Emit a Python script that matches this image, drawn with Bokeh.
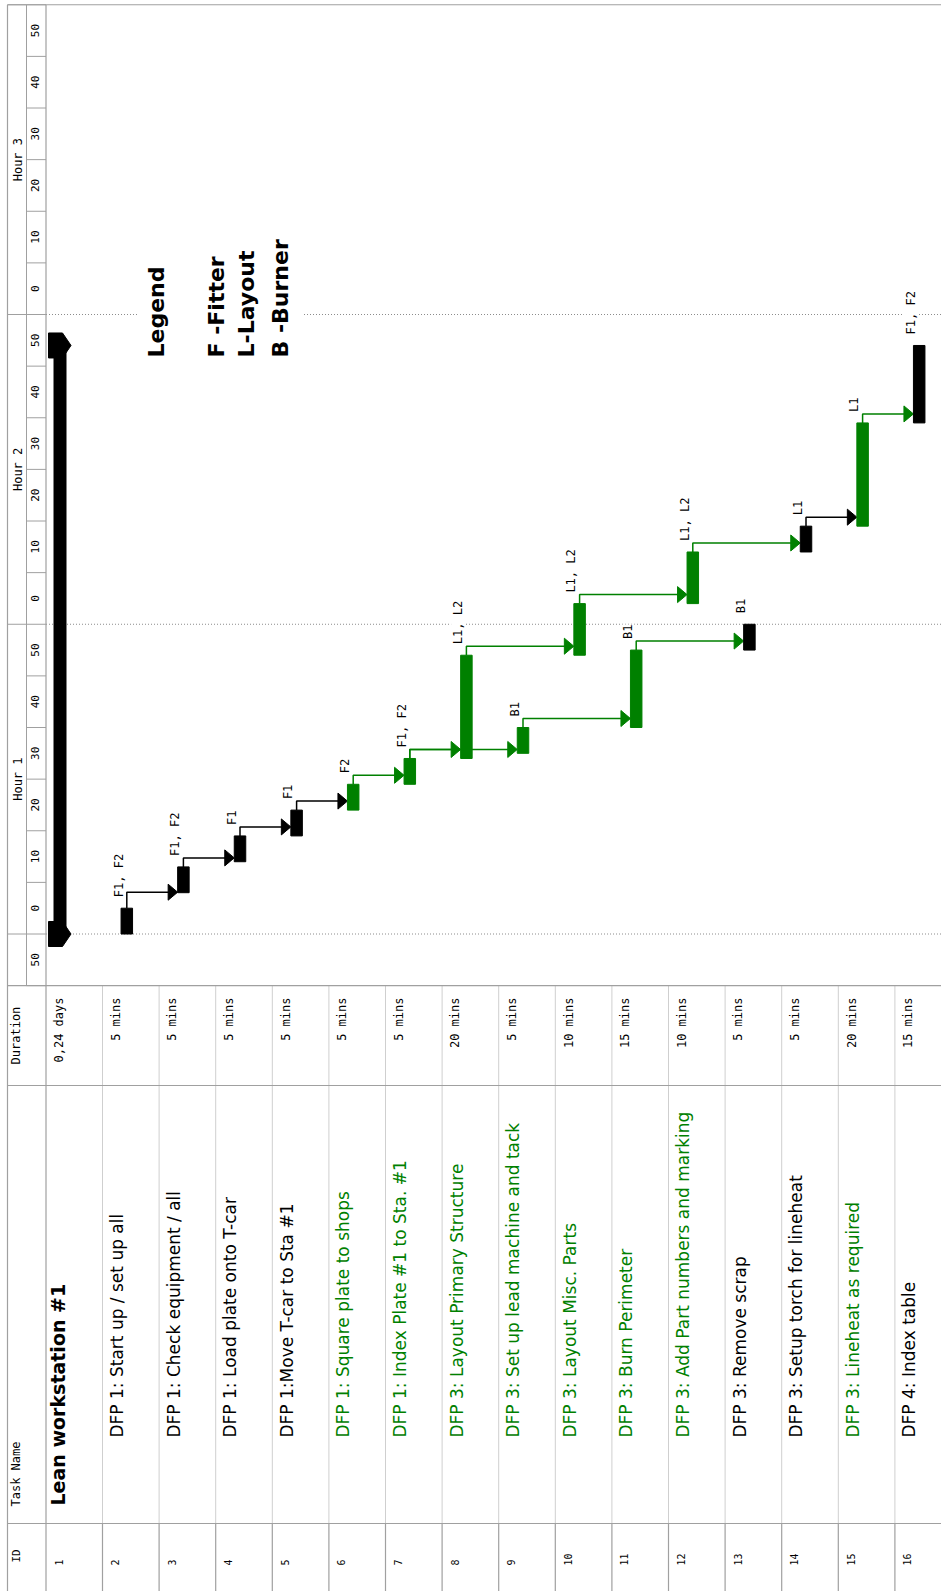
import math
from bokeh.plotting import figure
from bokeh.models import Range1d, ColumnDataSource
from bokeh.core.properties import value
from bokeh.embed import file_html
from bokeh.resources import INLINE

# ---------------- data ----------------
TASK_IDS = [1, 2, 3, 4, 5, 6, 7, 8, 9, 10, 11, 12, 13, 14, 15, 16]
TASK_NAMES = [
    "Lean workstation #1",
    "DFP 1: Start up / set up all",
    "DFP 1: Check equipment / all",
    "DFP 1: Load plate onto T-car",
    "DFP 1:Move T-car to Sta #1",
    "DFP 1: Square plate to shops",
    "DFP 1: Index Plate #1 to Sta. #1",
    "DFP 3: Layout Primary Structure",
    "DFP 3: Set up lead machine and tack",
    "DFP 3: Layout Misc. Parts",
    "DFP 3: Burn Perimeter",
    "DFP 3: Add Part numbers and marking",
    "DFP 3: Remove scrap",
    "DFP 3: Setup torch for lineheat",
    "DFP 3: Lineheat as required",
    "DFP 4: Index table",
]
DURATIONS = ["0,24 days", "5 mins", "5 mins", "5 mins", "5 mins", "5 mins", "5 mins",
             "20 mins", "5 mins", "10 mins", "15 mins", "10 mins", "5 mins", "5 mins",
             "20 mins", "15 mins"]
TASK_COLOR = ["#000000", "#000000", "#000000", "#000000", "#000000", "#008000", "#008000",
              "#008000", "#008000", "#008000", "#008000", "#008000", "#000000", "#000000",
              "#008000", "#000000"]
BAR_START = [0, 0, 8, 14, 19, 24, 29, 34, 35, 54, 40, 64, 55, 74, 79, 99]
BAR_END = [114, 5, 13, 19, 24, 29, 34, 54, 40, 64, 55, 74, 60, 79, 99, 114]
RESOURCES = ["", "F1, F2", "F1, F2", "F1", "F1", "F2", "F1, F2", "L1, L2", "B1",
             "L1, L2", "B1", "L1, L2", "B1", "L1", "L1", "F1, F2"]
LINK_FROM = [2, 3, 4, 5, 6, 7, 7, 8, 9, 10, 11, 12, 14, 15]
LINK_TO = [3, 4, 5, 6, 7, 8, 9, 10, 11, 12, 13, 14, 15, 16]
HOUR_LABELS = ["Hour 1", "Hour 2", "Hour 3"]
HOUR_START = [0, 60, 120]
MINUTE_START = [-10, 0, 10, 20, 30, 40, 50, 60, 70, 80, 90, 100, 110, 120, 130, 140, 150, 160, 170]
MINUTE_LABELS = ["50", "0", "10", "20", "30", "40", "50", "0", "10", "20", "30", "40", "50",
                 "0", "10", "20", "30", "40", "50"]
LEGEND_LINES = ["Legend", "F -Fitter", "L-Layout", "B -Burner"]

# ---------------- geometry / style ----------------
PX_ROW = 56.6      # pixels per row
PX_MIN = 5.1625    # pixels per minute
W, H = 941, 1591
ROW2 = 102.0       # page x of the left edge of row 2
ZERO_Y = 933.5     # page y of minute 0


def px_x(n):
    return n / PX_ROW


def px_t(n):
    return n / PX_MIN


def rx(px):
    return 2 + (px - ROW2) / PX_ROW


def ty(py):
    return (ZERO_Y - py) / PX_MIN


X0, X1 = rx(0), rx(W)
T1, T0 = ty(0), ty(H)

X_LEFT = rx(7)
X_TIER = rx(26)
X_HDR = rx(45.5)
T_TOP = 180
T_GANTT = -10
T_DUR = ty(1085)
T_TASK = ty(1523)

BAR_OFF = px_x(24.3)
BAR_HALF = px_x(5.75)
SUM_OFF = px_x(14)
SUM_HALF = px_x(6)

LEGEND_X = [rx(155.7), rx(215.7), rx(245.7), rx(279.7)]
LEGEND_T = ty(357)

FONT = "DejaVu Sans"
MONO = "DejaVu Sans Mono"
GRID = "#a0a0a0"
LIGHT = "#cfcfcf"


def row_left(i):
    return X_HDR if i == 1 else float(i)


p = figure(width=W, height=H, x_range=Range1d(X0, X1), y_range=Range1d(T0, T1),
           x_axis_location=None, y_axis_location=None, toolbar_location=None,
           output_backend="svg", min_border=0, outline_line_color=None,
           background_fill_color="white", border_fill_color="white")
p.grid.visible = False


def segs(xs, ys, color, width=1.0, dash="solid"):
    p.multi_line(xs=xs, ys=ys, line_color=color, line_width=width, line_dash=dash)


def vtext(xs, ys, texts, size, color="#000000", align="left", baseline="alphabetic",
          bold=False, bg=None, font=FONT):
    data = dict(x=xs, y=ys, text=texts)
    if isinstance(color, list):
        data["c"] = color
        col = "c"
    else:
        col = color
    src = ColumnDataSource(data)
    kw = {}
    if bg is not None:
        kw["background_fill_color"] = bg
    p.text("x", "y", text="text", source=src, angle=math.pi / 2,
           text_font=value(font), text_font_size=f"{size}px", text_color=col,
           text_align=align, text_baseline=baseline,
           text_font_style="bold" if bold else "normal", **kw)


# ---- hour dotted lines ----
segs([[X_HDR, X1] for h in HOUR_START], [[h, h] for h in HOUR_START], "#8c8c8c", 1, "1 2")

# ---- links ----
lxs, lys, lcol = [], [], []
axs, ays, acol = [], [], []
for a, b in zip(LINK_FROM, LINK_TO):
    ia, ib = a - 1, b - 1
    xa = row_left(a) + BAR_OFF
    xb = row_left(b) + BAR_OFF - BAR_HALF
    tt = max(BAR_END[ia] + px_t(9), BAR_START[ib] + px_t(0.5))
    lxs.append([xa, xa, xb - px_x(2)])
    lys.append([BAR_END[ia], tt, tt])
    lcol.append(TASK_COLOR[ia])
    axs.append([xb - px_x(9.5), xb, xb - px_x(9.5)])
    ays.append([tt + px_t(8), tt, tt - px_t(8)])
    acol.append(TASK_COLOR[ia])
p.multi_line(xs="xs", ys="ys", line_color="c", line_width=1.5,
             source=ColumnDataSource(dict(xs=lxs, ys=lys, c=lcol)))
p.patches(xs="xs", ys="ys", fill_color="c", line_color="c",
          source=ColumnDataSource(dict(xs=axs, ys=ays, c=acol)))

# ---- task bars ----
bl, br, bb, bt, bc = [], [], [], [], []
for i, s, e, c in zip(TASK_IDS, BAR_START, BAR_END, TASK_COLOR):
    if i == 1:
        continue
    xc = row_left(i) + BAR_OFF
    bl.append(xc - BAR_HALF)
    br.append(xc + BAR_HALF)
    bb.append(s)
    bt.append(e)
    bc.append(c)
p.quad(left="l", right="r", bottom="b", top="t", fill_color="c", line_color="c",
       source=ColumnDataSource(dict(l=bl, r=br, b=bb, t=bt, c=bc)))

# ---- summary bar ----
sx = row_left(1) + SUM_OFF
p.quad(left=[sx - SUM_HALF], right=[sx + SUM_HALF], bottom=[BAR_START[0]], top=[BAR_END[0]],
       fill_color="black", line_color="black")
cap_x = [sx + px_x(d) for d in (-11.5, 2.5, 11, 2.5, -11.5)]
cap_d = [px_t(d) for d in (12.5, 12.5, 0, -12.5, -12.5)]
p.patches(xs=[cap_x, cap_x], ys=[[BAR_START[0] + d for d in cap_d], [BAR_END[0] + d for d in cap_d]],
          fill_color="black", line_color="black")

# ---- resource labels ----
lab_x, lab_y, lab_t = [], [], []
for i, e, r in zip(TASK_IDS, BAR_END, RESOURCES):
    if not r:
        continue
    lab_x.append(row_left(i) + BAR_OFF - BAR_HALF - px_x(2.5))
    lab_y.append(e + px_t(11))
    lab_t.append(r)
vtext(lab_x, lab_y, lab_t, 12, bg="white", font=MONO)

# ---- legend text box ----
p.quad(left=[LEGEND_X[0] - px_x(18)], right=[LEGEND_X[-1] + px_x(22)],
       bottom=[LEGEND_T - px_t(2)], top=[LEGEND_T + px_t(130)], fill_color="white", line_color=None)
vtext(LEGEND_X, [LEGEND_T] * len(LEGEND_LINES), LEGEND_LINES, 22, bold=True)

# ---- time scale ----
ms_x, ms_y = [], []
for m in MINUTE_START + [MINUTE_START[-1] + 10]:
    ms_x.append([X_TIER, X_HDR])
    ms_y.append([m, m])
for h in HOUR_START + [HOUR_START[-1] + 60]:
    ms_x.append([X_LEFT, X_TIER])
    ms_y.append([h, h])
segs(ms_x, ms_y, GRID)
segs([[X_TIER, X_TIER]], [[T_GANTT, T_TOP]], GRID)
vtext([(X_TIER + X_HDR) / 2 - px_x(1)] * len(MINUTE_START), [m + 5 for m in MINUTE_START],
      MINUTE_LABELS, 11, align="center", baseline="middle", font=MONO)
vtext([(X_LEFT + X_TIER) / 2 + px_x(0.5)] * len(HOUR_START), [h + 30 for h in HOUR_START],
      HOUR_LABELS, 12, align="center", baseline="middle", font=MONO)

# ---- table grid ----
row_edges = TASK_IDS[1:]
segs([[x, x] for x in row_edges], [[T_GANTT, T_TASK] for x in row_edges], LIGHT)
segs([[x, x] for x in row_edges], [[T_TASK, T0] for x in row_edges], GRID, 1.2)
segs([[X_LEFT, X_LEFT], [X_HDR, X_HDR]], [[T0, T_TOP], [T0, T_TOP]], GRID, 1.2)
segs([[X_LEFT, X1]] * 4, [[T_TOP, T_TOP], [T_GANTT, T_GANTT], [T_DUR, T_DUR], [T_TASK, T_TASK]],
     GRID, 1.2)

# ---- header texts ----
HDR_X = X_LEFT + px_x(8.7)
vtext([HDR_X], [ty(1562)], ["ID"], 11, font=MONO)
vtext([HDR_X], [ty(1506)], ["Task Name"], 12, font=MONO)
vtext([HDR_X], [(T_GANTT + T_DUR) / 2], ["Duration"], 12, align="center", font=MONO)

# ---- table texts ----
rl = [row_left(i) for i in TASK_IDS]
vtext([x + px_x(12.5) for x in rl], [ty(1565)] * len(TASK_IDS),
      [str(i) for i in TASK_IDS], 10, font=MONO)
vtext([x + px_x(13.3) for x in rl], [ty(997)] * len(TASK_IDS), DURATIONS, 12,
      align="right", font=MONO)
vtext([rl[0] + px_x(11.8)], [ty(1505)], TASK_NAMES[:1], 19, bold=True)
vtext([x + px_x(14.5) for x in rl[1:]], [ty(1437)] * (len(TASK_IDS) - 1),
      TASK_NAMES[1:], 17, color=TASK_COLOR[1:])

open("out.html", "w").write(file_html(p, INLINE))
